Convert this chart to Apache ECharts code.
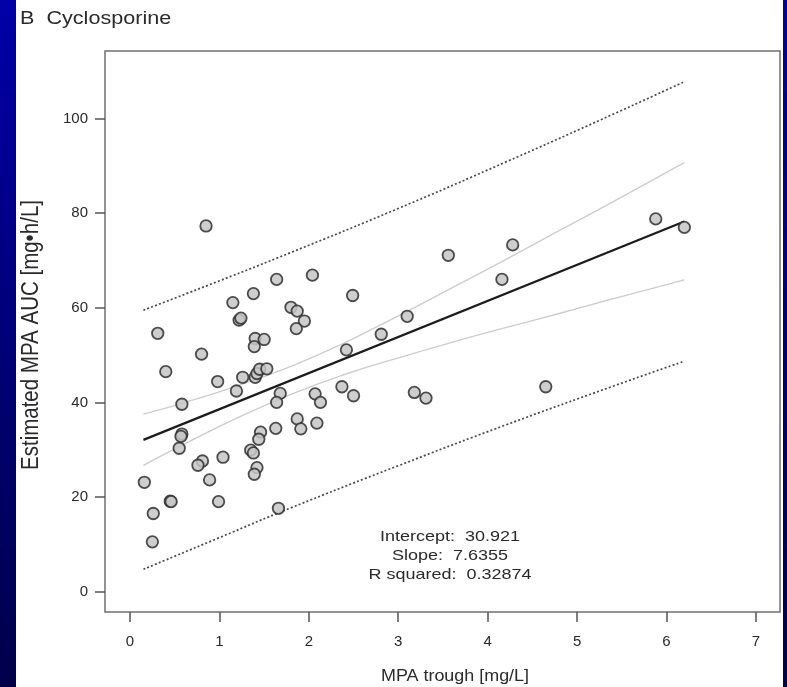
<!DOCTYPE html>
<html>
<head>
<meta charset="utf-8">
<script src="https://cdn.jsdelivr.net/npm/echarts@6/dist/echarts.min.js"></script>
<style>
  html, body { margin: 0; padding: 0; background: #fff; }
  #chart { width: 787px; height: 687px; }
</style>
</head>
<body>
<div id="chart"></div>
<script>
// MPA trough concentration vs. estimated MPA AUC, cyclosporine group

const troughMgL = [
  0.85, 0.31, 0.40, 0.58, 0.80, 0.98, 1.15, 1.19, 1.22, 1.24,
  1.26, 1.38, 1.40, 1.39, 1.50, 1.40, 1.42, 1.45, 1.53, 1.64,
  1.68, 1.64, 1.80, 1.87, 1.95, 1.86, 2.04, 2.07, 2.13, 2.37,
  2.42, 2.49, 2.50, 2.81, 3.10, 3.18, 3.31, 3.56, 4.16, 4.28,
  4.65, 5.88, 6.20, 0.58, 0.57, 0.55, 1.63, 1.46, 1.44, 1.87,
  1.91, 2.09, 1.35, 1.38, 0.81, 0.76, 1.04, 1.42, 1.39, 0.16,
  0.89, 0.45, 0.46, 0.99, 0.26, 1.66, 0.25
];
const aucMgHL = [
  77.3, 54.6, 46.5, 39.6, 50.2, 44.4, 61.1, 42.4, 57.4, 57.8,
  45.3, 63.0, 53.5, 51.8, 53.3, 45.3, 46.1, 47.0, 47.1, 66.0,
  41.9, 40.0, 60.1, 59.3, 57.2, 55.6, 66.9, 41.8, 40.0, 43.3,
  51.1, 62.6, 41.4, 54.4, 58.2, 42.1, 40.9, 71.1, 66.0, 73.3,
  43.3, 78.8, 77.0, 33.3, 32.8, 30.3, 34.5, 33.7, 32.2, 36.5,
  34.4, 35.6, 29.9, 29.3, 27.6, 26.7, 28.4, 26.2, 24.8, 23.1,
  23.6, 19.1, 19.0, 19.0, 16.5, 17.6, 10.5
];

// linear fit
const fitIntercept = 30.921;
const fitSlope = 7.6355;
const fitRSquared = 0.32874;
const fitRange = [0.15, 6.2];

// confidence band of the fit
const confX = [0.15, 0.6, 1.2, 1.8, 2.4, 3.0, 3.6, 4.2, 4.8, 5.4, 6.2];
const confUpper = [37.5, 39.9, 43.5, 47.6, 52.6, 58.3, 64.2, 70.2, 76.3, 82.4, 90.7];
const confLower = [26.7, 31.1, 36.7, 41.7, 45.9, 49.4, 52.7, 55.8, 58.8, 61.9, 65.9];

// prediction band
const predX = [0.15, 1.0, 1.8, 3.0, 4.2, 5.4, 6.2];
const predUpper = [59.5, 65.7, 71.7, 81.0, 90.8, 100.9, 107.8];
const predLower = [4.7, 11.4, 17.7, 26.6, 35.2, 43.4, 48.7];

const xTicks = [0, 1, 2, 3, 4, 5, 6, 7];
const yTicks = [0, 20, 40, 60, 80, 100];

const panelTitle = 'B  Cyclosporine';
const xTitle = 'MPA trough [mg/L]';
const yTitle = 'Estimated MPA AUC [mg\u2022h/L]';

const pairs = (xs, ys) => xs.map((x, i) => [x, ys[i]]);
const fitLine = fitRange.map(x => [x, fitIntercept + fitSlope * x]);

const FONT = '"Liberation Sans", Arial, Helvetica, sans-serif';
const TEXT = '#2a2a2a';

const chart = echarts.init(document.getElementById('chart'), null, { renderer: 'canvas' });

const bandFill = new echarts.graphic.LinearGradient(0, 0, 0, 1, [
  { offset: 0, color: '#0000a6' },
  { offset: 1, color: '#00004a' }
]);

const lineBase = { type: 'line', showSymbol: false, silent: true, animation: false, z: 2 };

chart.setOption({
  backgroundColor: '#ffffff',
  animation: false,
  grid: {
    left: 105, top: 51, width: 675, height: 561,
    show: true, borderColor: '#707070', borderWidth: 1.5, backgroundColor: 'transparent'
  },
  xAxis: {
    type: 'value', min: -0.28, max: 7.27,
    axisLine: { show: false, onZero: false },
    splitLine: { show: false },
    axisTick: { show: true, length: 10, lineStyle: { color: '#555', width: 1.5 }, customValues: xTicks },
    axisLabel: { customValues: xTicks, margin: 22, color: TEXT, fontSize: 15, fontFamily: FONT }
  },
  yAxis: {
    type: 'value', min: -4.33, max: 114.3,
    axisLine: { show: false, onZero: false },
    splitLine: { show: false },
    axisTick: { show: true, length: 10, lineStyle: { color: '#555', width: 1.5 }, customValues: yTicks },
    axisLabel: { customValues: yTicks, margin: 17, color: TEXT, fontSize: 15, fontFamily: FONT }
  },
  series: [
    Object.assign({}, lineBase, {
      name: 'pred-upper', data: pairs(predX, predUpper), smooth: true,
      lineStyle: { color: '#4a4a4a', width: 1.7, type: [2, 2.2] }
    }),
    Object.assign({}, lineBase, {
      name: 'pred-lower', data: pairs(predX, predLower), smooth: true,
      lineStyle: { color: '#4a4a4a', width: 1.7, type: [2, 2.2] }
    }),
    Object.assign({}, lineBase, {
      name: 'conf-upper', data: pairs(confX, confUpper), smooth: true,
      lineStyle: { color: '#cdcdcd', width: 1.4 }
    }),
    Object.assign({}, lineBase, {
      name: 'conf-lower', data: pairs(confX, confLower), smooth: true,
      lineStyle: { color: '#cdcdcd', width: 1.4 }
    }),
    Object.assign({}, lineBase, {
      name: 'fit', data: fitLine,
      lineStyle: { color: '#1c1c1c', width: 2.2 }, z: 3
    }),
    {
      type: 'scatter', name: 'patients', data: pairs(troughMgL, aucMgHL),
      symbol: 'circle', symbolSize: 11.5, z: 4, silent: true,
      itemStyle: { color: '#c6c6c6', borderColor: '#2f2f2f', borderWidth: 1.8, opacity: 0.85 }
    }
  ],
  graphic: [
    { type: 'rect', left: 0, top: 0, shape: { width: 16, height: 687 }, style: { fill: bandFill }, z: -10, silent: true },
    { type: 'rect', left: 783, top: 0, shape: { width: 4, height: 687 }, style: { fill: bandFill }, z: -10, silent: true },
    {
      type: 'text', x: 20, y: 19, scaleX: 1.2, silent: true,
      style: { text: panelTitle, fill: TEXT, font: '18px ' + FONT, textAlign: 'left', textVerticalAlign: 'middle' }
    },
    {
      type: 'text', x: 455, y: 677, scaleX: 1.12, silent: true,
      style: { text: xTitle, fill: TEXT, font: '16px ' + FONT, textAlign: 'center', textVerticalAlign: 'middle' }
    },
    {
      type: 'text', x: 31, y: 335, rotation: Math.PI / 2, scaleY: 1.15, silent: true,
      style: { text: yTitle, fill: TEXT, font: '20.5px ' + FONT, textAlign: 'center', textVerticalAlign: 'middle' }
    },
    {
      type: 'text', x: 450, y: 537, scaleX: 1.2, silent: true,
      style: { text: 'Intercept:  ' + fitIntercept.toFixed(3), fill: TEXT, font: '15px ' + FONT, textAlign: 'center', textVerticalAlign: 'middle' }
    },
    {
      type: 'text', x: 450, y: 556, scaleX: 1.2, silent: true,
      style: { text: 'Slope:  ' + fitSlope.toFixed(4), fill: TEXT, font: '15px ' + FONT, textAlign: 'center', textVerticalAlign: 'middle' }
    },
    {
      type: 'text', x: 450, y: 575, scaleX: 1.2, silent: true,
      style: { text: 'R squared:  ' + fitRSquared.toFixed(5), fill: TEXT, font: '15px ' + FONT, textAlign: 'center', textVerticalAlign: 'middle' }
    }
  ]
});
</script>
</body>
</html>
